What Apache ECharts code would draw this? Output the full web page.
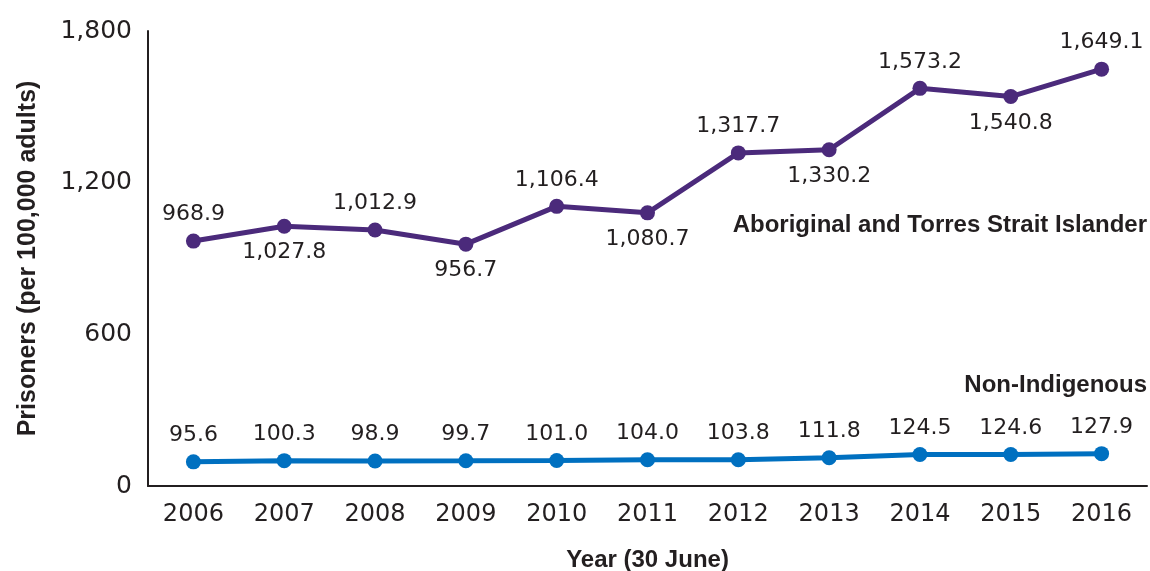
<!DOCTYPE html>
<html><head><meta charset="utf-8">
<script src="https://cdn.jsdelivr.net/npm/echarts@6/dist/echarts.min.js"></script>
<style>html,body{margin:0;padding:0;background:#fff}#c{width:1150px;height:571px}</style>
</head><body><div id="c"></div>
<script>
const years = ['2006','2007','2008','2009','2010','2011','2012','2013','2014','2015','2016'];
const indigenous = [968.9,1027.8,1012.9,956.7,1106.4,1080.7,1317.7,1330.2,1573.2,1540.8,1649.1];
const nonIndigenous = [95.6,100.3,98.9,99.7,101.0,104.0,103.8,111.8,124.5,124.6,127.9];
const indigenousLabelPos = ['top','bottom','top','bottom','top','bottom','top','bottom','top','bottom','top'];
const yTicks = [0,600,1200,1800];

const NUMFONT = '"DejaVu Sans", sans-serif';
const BOLDFONT = '"Liberation Sans", Arial, sans-serif';
const TXT = '#231f20';
const fmt = v => v.toLocaleString('en-US',{minimumFractionDigits:1,maximumFractionDigits:1});

const chart = echarts.init(document.getElementById('c'));
chart.setOption({
  animation:false,
  textStyle:{fontFamily:NUMFONT},
  title:[
    {text:'Aboriginal and Torres Strait Islander', right:-2, top:208, textStyle:{fontFamily:BOLDFONT,fontWeight:'bold',fontSize:24,color:TXT}},
    {text:'Non-Indigenous', right:-2, top:368, textStyle:{fontFamily:BOLDFONT,fontWeight:'bold',fontSize:24,color:TXT}}
  ],
  grid:{left:148,right:3,top:31,bottom:85,containLabel:false,outerBoundsMode:'none'},
  xAxis:{
    type:'category', data:years, boundaryGap:true,
    axisLine:{lineStyle:{color:'#231f20',width:2}},
    axisTick:{show:false},
    axisLabel:{fontSize:24,color:TXT,margin:17,fontFamily:NUMFONT},
    name:'Year (30 June)', nameLocation:'middle', nameGap:62,
    nameTextStyle:{fontSize:24,fontWeight:'bold',color:TXT,fontFamily:BOLDFONT}
  },
  yAxis:{
    type:'value', min:0, max:1800, interval:600,
    axisLine:{show:true,lineStyle:{color:'#231f20',width:2}},
    axisTick:{show:false}, splitLine:{show:false},
    axisLabel:{fontSize:25,color:TXT,margin:16,fontFamily:NUMFONT,
      formatter:v=>yTicks.includes(v)?v.toLocaleString('en-US'):''},
    name:'Prisoners (per 100,000 adults)', nameLocation:'middle', nameGap:107, nameRotate:90,
    nameTextStyle:{fontSize:25,fontWeight:'bold',color:TXT,fontFamily:BOLDFONT}
  },
  series:[
    {type:'line', data:indigenous.map((v,i)=>({value:v,label:{position:indigenousLabelPos[i]}})),
     symbol:'circle', symbolSize:15, lineStyle:{color:'#4b2a7b',width:5}, itemStyle:{color:'#4b2a7b'},
     label:{show:true,distance:8,fontSize:22,color:TXT,fontFamily:NUMFONT,formatter:p=>fmt(p.value)}},
    {type:'line', data:nonIndigenous,
     symbol:'circle', symbolSize:15, lineStyle:{color:'#0070c0',width:5}, itemStyle:{color:'#0070c0'},
     label:{show:true,position:'top',distance:8,fontSize:22,color:TXT,fontFamily:NUMFONT,formatter:p=>fmt(p.value)}}
  ]
});
</script></body></html>
